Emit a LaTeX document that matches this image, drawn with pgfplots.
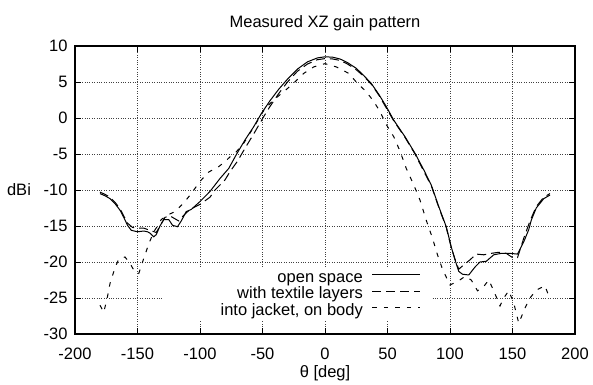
\documentclass[border=0pt]{standalone}
\usepackage{pgfplots}
\pgfplotsset{compat=1.18}
\usepackage{fontspec}
\setmainfont{Liberation Sans}

\pgfplotstableread{
th v
-180 -10.5
-176 -10.8
-172 -11.2
-168 -11.9
-164 -12.8
-161 -13.8
-158 -14.9
-155 -15.6
-150 -15.8
-145 -15.7
-142 -15.8
-140 -16.0
-137 -16.5
-135 -16.2
-132 -15.0
-129 -14.1
-125 -14.1
-122 -14.9
-118 -15.1
-115 -14.3
-111 -13.0
-107 -12.7
-100 -11.6
-92 -10.2
-84 -8.4
-77 -7.0
-71 -5.1
-64 -3.05
-57 -1.2
-51 0.6
-44 2.4
-37 4.0
-30 5.4
-22 6.8
-14 7.8
-6 8.35
0 8.5
6 8.45
12 8.2
18 7.7
25 6.9
31 5.9
37 4.8
43 3.3
49 1.6
55 -0.3
64 -2.6
72 -4.9
79 -7.2
85 -9.3
91 -12.3
97 -15.1
101 -17.9
104 -19.7
107 -21.3
110 -21.7
115 -21.8
120 -20.7
124 -20.0
129 -19.9
135 -19.0
141 -18.8
148 -18.8
154 -18.9
159 -17.2
163 -15.5
165 -14.2
169 -12.5
175 -11.2
180 -10.7
}\opensp

\pgfplotstableread{
th v
-180 -10.3
-176 -10.6
-172 -11.0
-168 -11.7
-164 -12.6
-161 -13.6
-158 -14.6
-154 -15.2
-150 -15.3
-145 -15.3
-140 -15.6
-135 -15.9
-132 -15.0
-128 -13.8
-124 -13.6
-120 -14.0
-117 -14.3
-113 -13.5
-108 -12.7
-100 -12.0
-92 -11.0
-88 -10.0
-80 -8.6
-76 -7.45
-70 -6.0
-64 -4.2
-57 -2.2
-49 0.2
-44 1.6
-37 3.4
-30 5.0
-22 6.5
-14 7.5
-6 8.1
0 8.25
6 8.2
12 8.0
18 7.5
25 6.7
31 5.8
37 4.7
43 3.2
49 1.4
55 -0.4
64 -2.7
72 -5.0
79 -7.4
85 -9.4
91 -12.4
97 -15.2
101 -18.0
104 -19.6
107 -21.0
111 -20.4
116 -19.7
121 -18.9
127 -19.0
133 -18.8
139 -18.65
145 -18.8
151 -19.5
154 -19.4
159 -16.7
164 -14.3
169 -12.3
175 -11.0
180 -10.5
}\textile

\pgfplotstableread{
th v
-180 -26.0
-177 -27.0
-174 -24.8
-172 -23.0
-168 -20.8
-165 -19.6
-160 -19.3
-156 -20.2
-152 -21.4
-149 -21.6
-145 -19.5
-141 -17.5
-137 -15.8
-134 -15.0
-131 -14.1
-125 -13.4
-120 -13.0
-113 -11.8
-107 -10.5
-100 -8.8
-93 -7.5
-85 -6.75
-80 -6.05
-76 -5.4
-71 -4.7
-65 -3.5
-60 -2.1
-56 -1.0
-52 0.2
-48 1.3
-44 2.0
-39 2.8
-32 3.8
-25 4.85
-17 6.2
-9 7.1
0 7.55
9 7.1
19 6.2
25 5.0
33 3.65
39 2.3
44 0.9
49 -0.9
55 -2.6
60 -4.6
65 -7.0
71 -9.3
76 -11.4
81 -14.2
86 -16.7
90 -19.0
94 -21.0
100 -23.2
107 -22.6
112 -22.0
117 -22.5
122 -24.0
127 -23.4
131 -22.5
135 -24.0
140 -26.1
143 -25.0
147 -24.0
151 -25.7
155 -28.5
160 -26.4
164 -25.0
169 -23.9
176 -23.3
180 -25.2
}\jacket

\begin{document}
\begin{tikzpicture}[font=\fontsize{16.5bp}{19bp}\selectfont]
\path[use as bounding box] (0,0) rectangle (593bp,385bp);
\begin{axis}[
  at={(75bp,51bp)}, anchor=south west,
  scale only axis, width=500bp, height=288bp,
  xmin=-200, xmax=200, ymin=-30, ymax=10,
  xtick={-200,-150,...,200}, ytick={-30,-25,...,10},
  minor tick num=0,
  tick align=inside, major tick length=6bp,
  /pgf/number format/assume math mode=true,
  scaled ticks=false,
  grid=major,
  grid style={black!75, line width=0.6bp, dash pattern=on 0.8bp off 1.6bp},
  axis line style={line width=1.2bp},
  every tick/.style={black, line width=0.8bp},
  xticklabel style={anchor=base, yshift=-25bp},
  yticklabel style={anchor=east, xshift=-4bp},
  every axis title/.style={at={(axis description cs:0.5,1)}, anchor=base, yshift=19bp},
  title={Measured XZ gain pattern},
  every axis x label/.style={at={(axis description cs:0.5,0)}, anchor=base, yshift=-43bp},
  xlabel={θ [deg]},
  every axis y label/.style={at={(axis description cs:0,0.5)}, anchor=center, xshift=-56bp},
  ylabel={dBi},
  legend plot pos=right,
  legend cell align=right,
  legend image code/.code={\draw[#1] (0bp,0.35em) -- (48bp,0.35em);},
  legend style={at={(axis description cs:0.714,0.229)}, anchor=north east,
    fill=white, draw=none, inner xsep=11bp, inner ysep=1.5bp,
    row sep=0pt, column sep=5bp,
    nodes={inner xsep=4bp, inner ysep=0.5bp, text height=12bp, text depth=3.5bp}},
]
\addplot[black, line width=1bp] table[x=th, y=v] {\opensp};
\addlegendentry{\makebox[186bp][r]{open space}}
\addplot[black, line width=1bp, dash pattern=on 9bp off 5bp] table[x=th, y=v] {\textile};
\addlegendentry{with textile layers}
\addplot[black, line width=1bp, dash pattern=on 4.5bp off 7bp] table[x=th, y=v] {\jacket};
\addlegendentry{into jacket, on body}
\end{axis}
\end{tikzpicture}
\end{document}
